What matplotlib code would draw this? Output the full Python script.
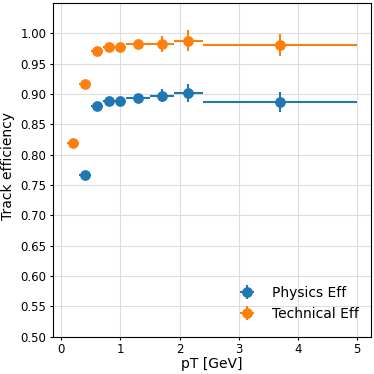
import numpy as np
import matplotlib
matplotlib.use("Agg")
import matplotlib.pyplot as plt

# bins in pT [GeV]
pt_lo = [0.1, 0.3, 0.5, 0.7, 0.9, 1.1, 1.5, 1.9, 2.4]
pt_hi = [0.3, 0.5, 0.7, 0.9, 1.1, 1.5, 1.9, 2.4, 5.0]

# physics efficiency (first bin missing)
phys_eff = [0.767, 0.880, 0.888, 0.889, 0.894, 0.897, 0.901, 0.887]
phys_err = [0.004, 0.004, 0.004, 0.004, 0.005, 0.011, 0.015, 0.016]

# technical efficiency
tech_eff = [0.820, 0.916, 0.971, 0.977, 0.978, 0.983, 0.983, 0.988, 0.981]
tech_err = [0.003, 0.003, 0.004, 0.004, 0.005, 0.006, 0.013, 0.017, 0.018]

lo = np.array(pt_lo)
hi = np.array(pt_hi)
centros = (lo + hi) / 2
anchos = (hi - lo) / 2

fig = plt.figure(figsize=(3.74, 3.74), dpi=100)
ax = fig.add_axes([0.142, 0.1, 0.85, 0.892])

ax.errorbar(centros[1:], phys_eff, xerr=anchos[1:], yerr=phys_err, fmt='o',
            color='#1f77b4', markersize=6.7, elinewidth=1.5, label='Physics Eff')
ax.errorbar(centros, tech_eff, xerr=anchos, yerr=tech_err, fmt='o',
            color='#ff7f0e', markersize=6.7, elinewidth=1.5, label='Technical Eff')

ax.set_xlim(-0.14, 5.24)
ax.set_ylim(0.5, 1.05)
ax.set_xticks([0, 1, 2, 3, 4, 5])
ax.set_yticks(np.arange(0.5, 1.001, 0.05))
ax.grid(True, color='#dddddd', linewidth=0.8)
ax.set_axisbelow(True)
ax.set_xlabel('pT [GeV]', fontsize=10)
ax.set_ylabel('Track efficiency', fontsize=10)
ax.xaxis.set_label_coords(0.5, -0.06)
ax.yaxis.set_label_coords(-0.12, 0.51)
ax.tick_params(labelsize=8.5, length=2.5, pad=2.2)
ax.legend(loc='lower right', frameon=False, fontsize=10,
          bbox_to_anchor=(1.0, 0.01))

fig.savefig('out.png', dpi=100)
